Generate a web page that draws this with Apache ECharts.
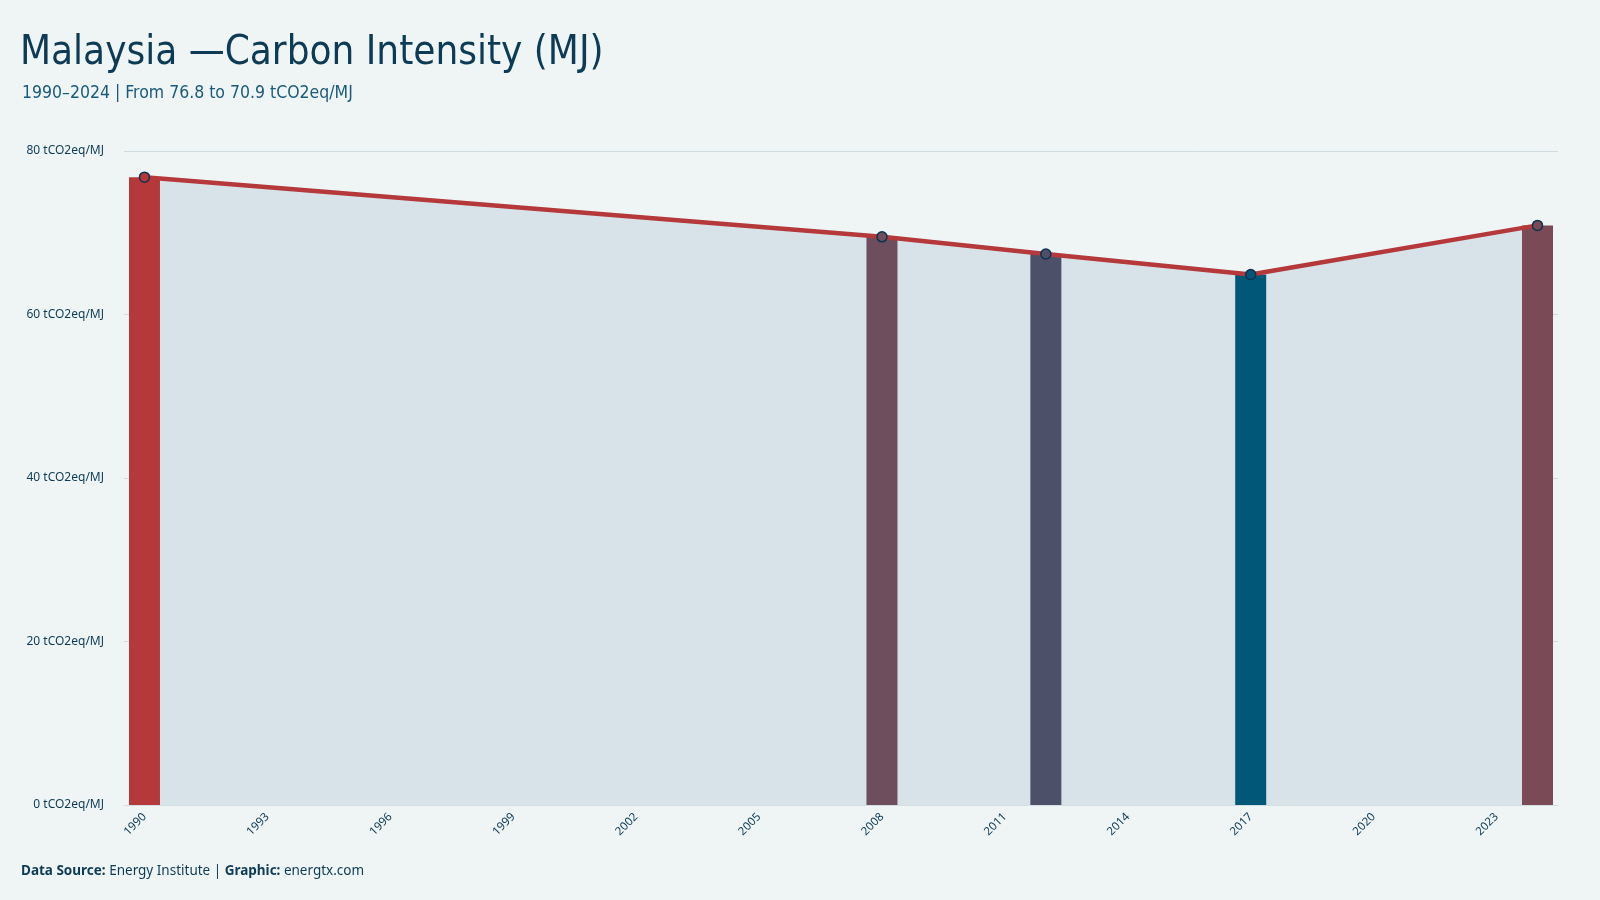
<!DOCTYPE html>
<html>
<head>
<meta charset="utf-8">
<script src="https://cdn.jsdelivr.net/npm/echarts@6/dist/echarts.min.js"></script>
<style>
html,body{margin:0;padding:0;background:#eff5f5;}
#chart{width:1600px;height:900px;}
</style>
</head>
<body>
<div id="chart"></div>
<script>
const firstYear = 1990;
const lastYear = 2024;
const pointYears = [1990, 2008, 2012, 2017, 2024];
const pointValues = [76.8, 69.5, 67.4, 64.9, 70.9];
const barColors = ['#b5383a', '#6e4d5c', '#4d5069', '#005778', '#7a4a57'];
const yTicks = [0, 20, 40, 60, 80];
const unit = 'tCO2eq/MJ';

const categories = [];
for (let y = firstYear; y <= lastYear; y++) categories.push(String(y));

const barData = categories.map(c => {
  const i = pointYears.indexOf(Number(c));
  if (i < 0) return null;
  return { value: pointValues[i], itemStyle: { color: barColors[i] } };
});
const lineData = categories.map(c => {
  const i = pointYears.indexOf(Number(c));
  if (i < 0) return null;
  return { value: pointValues[i], itemStyle: { color: barColors[i] } };
});

const titleFont = "'Liberation Sans Narrow', 'DejaVu Sans Condensed', sans-serif";
const bodyFont = "'Noto Sans', 'DejaVu Sans', sans-serif";

const chart = echarts.init(document.getElementById('chart'));
chart.setOption({
  backgroundColor: '#eff5f5',
  animation: false,
  title: [{
    text: 'Malaysia \u2014Carbon Intensity (MJ)',
    left: 20, top: 34, padding: 0,
    textStyle: { fontFamily: titleFont, fontSize: 40, fontWeight: 'normal', color: '#0d3b55' }
  }, {
    text: '1990\u20132024 | From 76.8 to 70.9 tCO2eq/MJ',
    left: 22, top: 84, padding: 0,
    textStyle: { fontFamily: titleFont, fontSize: 17.5, fontWeight: 'normal', color: '#1a5a7a' }
  }],
  graphic: [{
    type: 'text', left: 21, top: 864,
    style: {
      text: '{b|Data Source:} Energy Institute | {b|Graphic:} energtx.com',
      fontFamily: bodyFont, fontSize: 13.5, fill: '#0d3b55',
      rich: { b: { fontFamily: bodyFont, fontSize: 13.5, fontWeight: 'bold', fill: '#0d3b55' } }
    }
  }],
  grid: { left: 124, right: 42, top: 151, bottom: 95 },
  xAxis: {
    type: 'category',
    data: categories,
    boundaryGap: true,
    axisLine: { show: true, lineStyle: { color: '#d3dfe3' } },
    axisTick: { show: false },
    axisLabel: { interval: 2, rotate: 45, fontFamily: bodyFont, fontSize: 11.5, color: '#0d3b55', margin: 10 }
  },
  yAxis: {
    type: 'value',
    min: yTicks[0], max: yTicks[yTicks.length - 1], interval: 20,
    axisLine: { show: false },
    axisTick: { show: false },
    splitLine: { lineStyle: { color: '#cfdbe0', width: 1 } },
    axisLabel: { formatter: v => v + ' ' + unit, fontFamily: bodyFont, fontSize: 12, color: '#0d3b55', margin: 20 }
  },
  series: [{
    type: 'line',
    data: lineData.map(d => d ? d.value : null),
    connectNulls: true,
    showSymbol: false,
    lineStyle: { width: 0 },
    areaStyle: { color: '#d7e3e8', opacity: 1 },
    z: 1, silent: true
  }, {
    type: 'bar',
    data: barData,
    barWidth: 31,
    z: 2
  }, {
    type: 'line',
    data: lineData,
    connectNulls: true,
    symbol: 'circle',
    symbolSize: 10,
    showSymbol: true,
    lineStyle: { color: '#b5383a', width: 4.5 },
    itemStyle: { borderColor: '#0b3350', borderWidth: 1.5 },
    z: 3
  }]
});
</script>
</body>
</html>
